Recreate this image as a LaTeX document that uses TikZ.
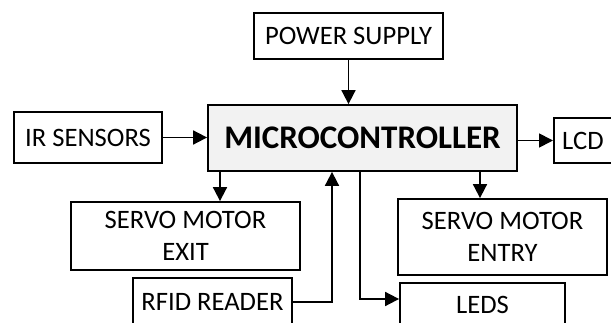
\documentclass[tikz,border=0pt]{standalone}
\usepackage{fontspec}
\setmainfont{Carlito}
\usetikzlibrary{arrows.meta}
\definecolor{mcgray}{HTML}{F2F2F2}
\begin{document}
\begin{tikzpicture}[x=1pt,y=-1pt,
  box/.style={draw=black,line width=1.8pt,rectangle,inner sep=0pt,
    font=\fontsize{26.6}{32}\selectfont,align=center},
  arr/.style={line width=1.8pt,-{Triangle[length=14pt,width=14pt]}},
  ln/.style={line width=1.8pt}]
\useasboundingbox (0,0) rectangle (611,323);
\clip (0,0) rectangle (611,323);
\node[box,minimum width=189pt,minimum height=46pt] (ps) at (348.5,36) {POWER SUPPLY};
\node[box,fill=mcgray,minimum width=309pt,minimum height=66pt,font=\bfseries\fontsize{33}{40}\selectfont] (mc) at (362.5,138) {MICROCONTROLLER};
\node[box,minimum width=148pt,minimum height=51pt] (ir) at (88,137.5) {IR SENSORS};
\node[box,minimum width=64pt,minimum height=45pt,anchor=west] (lcd) at (553,140.5) {\hspace*{-6pt}LCD};
\node[box,minimum width=229pt,minimum height=68pt] (exit) at (185.5,236) {SERVO MOTOR\\EXIT};
\node[box,minimum width=209pt,minimum height=76pt] (entry) at (502.5,237) {SERVO MOTOR\\ENTRY};
\node[box,minimum width=159pt,minimum height=48pt] (rfid) at (212.5,302) {RFID READER};
\node[box,minimum width=165pt,minimum height=44pt] (leds) at (482.5,305) {LEDS};
\coordinate (exitx) at (220,0);
\coordinate (entryx) at (480,0);
\coordinate (rfidx) at (332,0);
\coordinate (ledsx) at (360,0);
\coordinate (ledsy) at (0,299);
\draw[arr] (ps.south) -- (ps.south |- mc.north);
\draw[arr] (ir.east) -- (ir.east -| mc.west);
\draw[arr] (lcd.west -| mc.east) -- (lcd.west);
\draw[arr] (exitx |- mc.south) -- (exitx |- exit.north);
\draw[arr] (entryx |- mc.south) -- (entryx |- entry.north);
\draw[arr] (rfid.east) -| (rfidx |- mc.south);
\draw[arr] (ledsx |- mc.south) |- (ledsy -| leds.west);
\end{tikzpicture}
\end{document}
